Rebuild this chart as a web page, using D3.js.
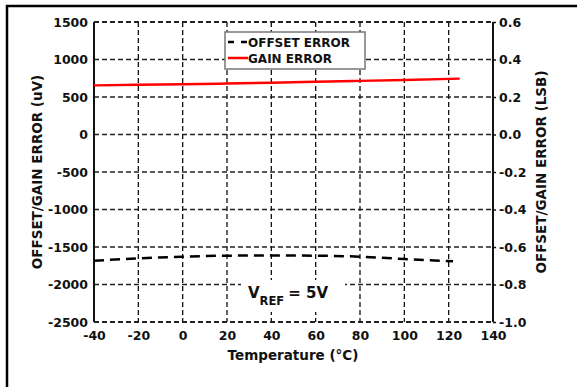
<!DOCTYPE html>
<html><head><meta charset="utf-8">
<script src="https://cdn.jsdelivr.net/npm/d3@7"></script>
<style>body{margin:0;background:#fff}svg{display:block}text{font-family:"DejaVu Sans",sans-serif;font-weight:bold;fill:#111}</style>
</head><body><svg id="c" width="577" height="387"></svg>
<script>
const temps = [-40,-20,0,20,40,60,80,100,122];
const offsetError = [-1683,-1651,-1629,-1616,-1613,-1616,-1629,-1660,-1690];
const gainTemps = [-40,-20,0,20,40,60,80,100,125];
const gainError = [655,662,670,680,690,702,715,728,745];
const xTicks = [-40,-20,0,20,40,60,80,100,120,140];
const yTicks = [1500,1000,500,0,-500,-1000,-1500,-2000,-2500];
const y2Ticks = [0.6,0.4,0.2,0.0,-0.2,-0.4,-0.6,-0.8,-1.0];

const FF = "DejaVu Sans, sans-serif";
const svg = d3.select("#c");
const L=94,R=493,T=22,B=322;
const x = d3.scaleLinear().domain([-40,140]).range([L,R]);
const y = d3.scaleLinear().domain([-2500,1500]).range([B,T]);
const y2 = d3.scaleLinear().domain([-1,0.6]).range([B,T]);
const hy = s => s.replace("\u2212","-");

// outer frame
svg.append("rect").attr("x",7).attr("y",6).attr("width",600).attr("height",400)
  .attr("fill","none").attr("stroke","#000").attr("stroke-width",2.5);

// grid
const g = svg.append("g");
g.selectAll(".vg").data(xTicks.slice(1,-1)).join("line")
  .attr("x1",d=>x(d)).attr("x2",d=>x(d)).attr("y1",T).attr("y2",B)
  .attr("stroke","#111").attr("stroke-width",1.3).attr("stroke-dasharray","5,3");
g.selectAll(".hg").data(yTicks).join("line")
  .attr("x1",L).attr("x2",R).attr("y1",d=>y(d)).attr("y2",d=>y(d))
  .attr("stroke","#222").attr("stroke-width",d=>(d===1500||d===-2500)?2:1.3).attr("stroke-dasharray","5,3");

// VREF label background
svg.append("rect").attr("x",241).attr("y",280).attr("width",104).attr("height",32).attr("fill","#fff");

// axes lines
svg.append("line").attr("x1",L).attr("x2",L).attr("y1",T).attr("y2",B).attr("stroke","#111").attr("stroke-width",2);
svg.append("line").attr("x1",R).attr("x2",R).attr("y1",T).attr("y2",B).attr("stroke","#111").attr("stroke-width",2);

// axes via d3
const axL = svg.append("g").attr("transform",`translate(${L},0)`)
  .call(d3.axisLeft(y).tickValues(yTicks).tickSize(0).tickPadding(6).tickFormat(d=>hy(d3.format("d")(d))));
const axR = svg.append("g").attr("transform",`translate(${R},0)`)
  .call(d3.axisRight(y2).tickValues(y2Ticks).tickSize(3).tickPadding(3).tickFormat(d=>hy(d3.format(".1f")(Math.abs(d)<1e-9?0:d))));
const axB = svg.append("g").attr("transform",`translate(0,${B})`)
  .call(d3.axisBottom(x).tickValues(xTicks).tickSize(0).tickPadding(9).tickFormat(d=>hy(d3.format("d")(d))));
[axL,axR,axB].forEach(a=>{a.attr("font-family",FF).attr("font-size",12.5);a.select(".domain").remove();a.selectAll("text").attr("font-size",12.5).attr("font-weight","bold").attr("fill","#111").attr("font-family",FF);});
axR.selectAll("line").attr("stroke","#111").attr("stroke-width",1.5);

// lines
const line = d3.line().x(d=>x(d[0])).y(d=>y(d[1])).curve(d3.curveMonotoneX);
svg.append("path").datum(temps.map((t,i)=>[t,offsetError[i]])).attr("d",line)
  .attr("fill","none").attr("stroke","#000").attr("stroke-width",2.5).attr("stroke-dasharray","10,6");
svg.append("path").datum(gainTemps.map((t,i)=>[t,gainError[i]])).attr("d",line)
  .attr("fill","none").attr("stroke","#ff0000").attr("stroke-width",2.5);

// legend
const lg = svg.append("g");
lg.append("rect").attr("x",225).attr("y",32).attr("width",140).attr("height",37)
  .attr("fill","#fff").attr("stroke","#777").attr("stroke-width",1.5);
lg.append("line").attr("x1",228).attr("x2",248).attr("y1",42).attr("y2",42).attr("stroke","#000").attr("stroke-width",2.5).attr("stroke-dasharray","6,7");
lg.append("line").attr("x1",228).attr("x2",248).attr("y1",58).attr("y2",58).attr("stroke","#ff0000").attr("stroke-width",2.5);
lg.append("text").attr("x",248).attr("y",46.5).attr("font-size",12).text("OFFSET ERROR");
lg.append("text").attr("x",248).attr("y",63).attr("font-size",12).text("GAIN ERROR");

// VREF
const vt = svg.append("text").attr("x",248).attr("y",298).attr("font-size",15);
vt.append("tspan").text("V");
vt.append("tspan").attr("font-size",11.5).attr("dy",7).text("REF");
vt.append("tspan").attr("dy",-7).attr("dx",4).text("= 5V");

// axis titles
svg.append("text").attr("transform",`translate(42,172) rotate(-90)`).attr("text-anchor","middle").attr("font-size",13.5).text("OFFSET/GAIN ERROR (uV)");
svg.append("text").attr("transform",`translate(546,172) rotate(-90)`).attr("text-anchor","middle").attr("font-size",13.5).text("OFFSET/GAIN ERROR (LSB)");
svg.append("text").attr("x",293).attr("y",360).attr("text-anchor","middle").attr("font-size",13.5).text("Temperature (°C)");
</script></body></html>
